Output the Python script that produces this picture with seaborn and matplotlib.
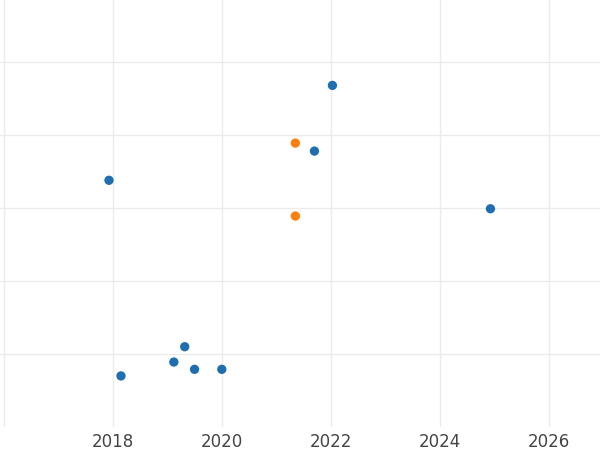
import matplotlib
matplotlib.use("Agg")
import matplotlib.pyplot as plt
import seaborn as sns
import pandas as pd

sns.set_theme(style="whitegrid")
plt.rcParams['font.family'] = ['DejaVu Sans']

blue_x = [2017.93, 2018.15, 2019.12, 2019.32, 2019.5, 2020.0, 2021.7, 2022.03, 2024.93]
blue_y = [3.38, 0.70, 0.89, 1.10, 0.79, 0.79, 3.78, 4.68, 2.99]
orange_x = [2021.35, 2021.35]
orange_y = [3.89, 2.89]

df = pd.DataFrame({
    "x": blue_x + orange_x,
    "y": blue_y + orange_y,
    "g": ["a"] * len(blue_x) + ["b"] * len(orange_x),
})

fig = plt.figure(figsize=(6, 4.5), dpi=100)
ax = fig.add_axes([0, 23/450, 1, 427/450])
sns.scatterplot(data=df, x="x", y="y", hue="g", palette=["#1f6fb0", "#ff7f0e"],
                s=45, edgecolor="none", legend=False, ax=ax)
ax.set_xlim(2015.93, 2026.94)
ax.set_ylim(0, 5.85)
ax.set_xticks([2016, 2018, 2020, 2022, 2024, 2026])
ax.set_xticklabels(["", "2018", "2020", "2022", "2024", "2026"])
ax.set_yticks([1, 2, 3, 4, 5])
ax.set_yticklabels([])
ax.grid(color="#ebebeb", linewidth=1)
ax.set_xlabel("")
ax.set_ylabel("")
ax.tick_params(axis="x", labelsize=12, colors="#444444", length=0, pad=4)
ax.tick_params(axis="y", length=0)
for s in ax.spines.values():
    s.set_visible(False)
fig.savefig("out.png", dpi=100)
